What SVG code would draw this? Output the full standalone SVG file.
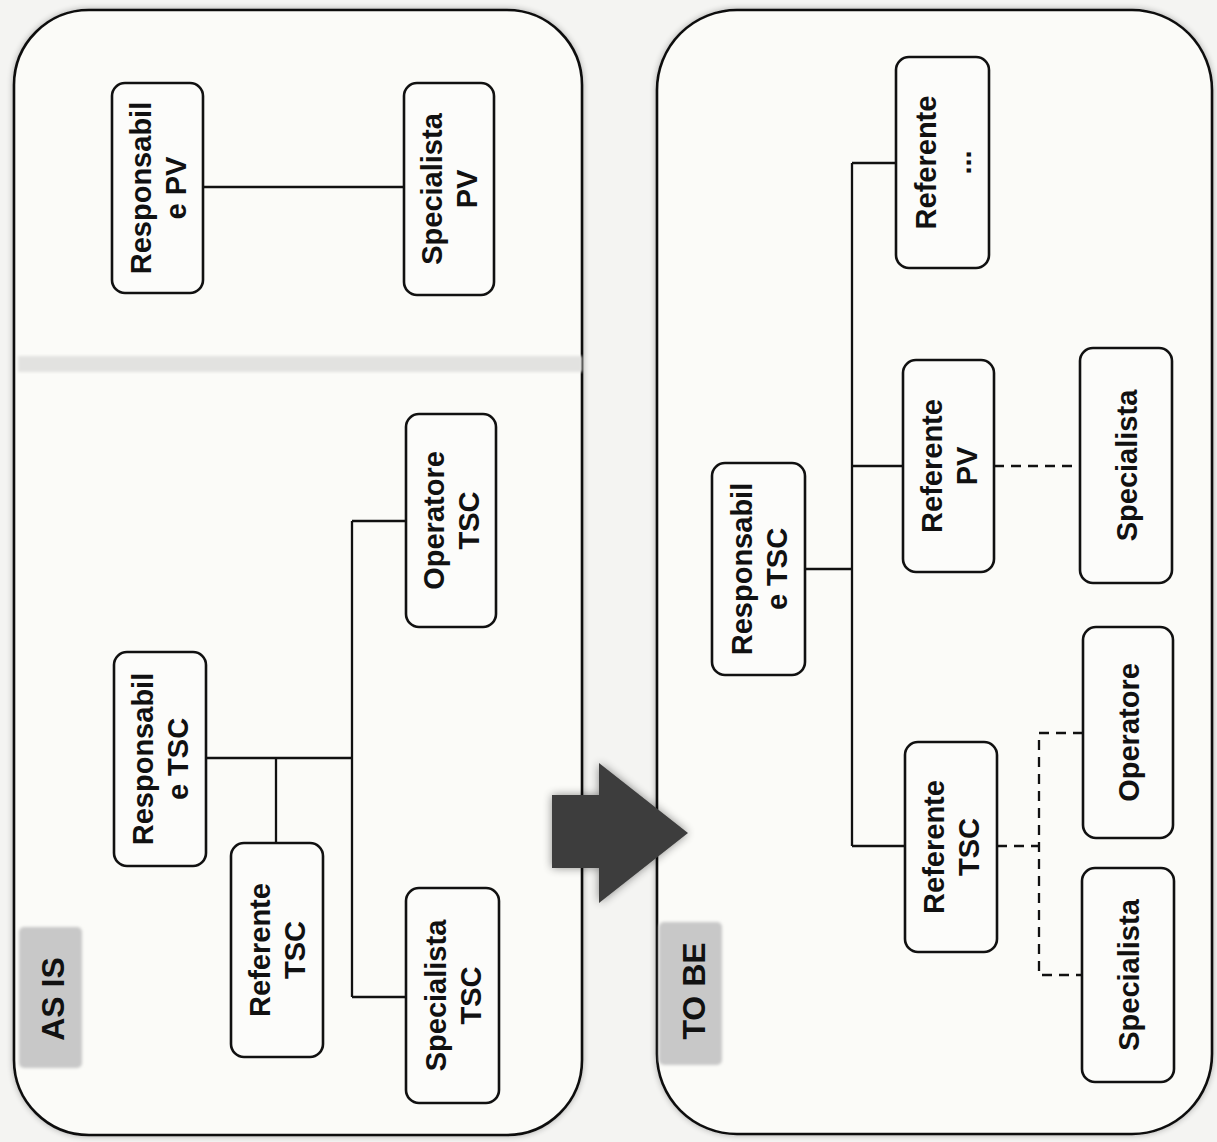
<svg xmlns="http://www.w3.org/2000/svg" width="1217" height="1142" viewBox="0 0 1217 1142">
  <defs>
    <style>
      .panel { fill: #fbfbf8; stroke: #111; stroke-width: 2.6; }
      .node rect { fill: #fcfcfa; stroke: #111; stroke-width: 2.6; }
      .node text, .tag text { font-family: "Liberation Sans", Arial, sans-serif; font-weight: bold; font-size: 29px; fill: #111; text-anchor: middle; }
      .tag text { font-size: 32px; }
      .tag rect { fill: #c8c8c8; }
      .conn line, .conn polyline { stroke: #111; stroke-width: 2.3; fill: none; }
      .conn .dash { stroke-dasharray: 10 7; }
    </style>
    <filter id="halo" x="-5%" y="-5%" width="110%" height="110%">
      <feGaussianBlur in="SourceAlpha" stdDeviation="3"/>
      <feComponentTransfer><feFuncA type="linear" slope="0.3"/></feComponentTransfer>
      <feMerge><feMergeNode/><feMergeNode in="SourceGraphic"/></feMerge>
    </filter>
    <filter id="arrowShade" x="-30%" y="-30%" width="160%" height="160%">
      <feGaussianBlur in="SourceAlpha" stdDeviation="5"/>
      <feComponentTransfer><feFuncA type="linear" slope="0.45"/></feComponentTransfer>
      <feMerge><feMergeNode/><feMergeNode in="SourceGraphic"/></feMerge>
    </filter>
    <filter id="softTag" x="-10%" y="-10%" width="120%" height="120%">
      <feGaussianBlur stdDeviation="1.5"/>
    </filter>
  </defs>

  <rect x="0" y="0" width="1217" height="1142" fill="#f4f4f2"/>

  <!-- Panels -->
  <g id="panel-as-is">
    <rect class="panel" x="14" y="10" width="568" height="1125" rx="75" ry="75" filter="url(#halo)"/>
    <rect x="18" y="356" width="564" height="16" fill="#e2e2e0" filter="url(#softTag)"/>
    <line x1="22" y1="364" x2="580" y2="364" stroke="#d2d2d0" stroke-width="7" stroke-dasharray="30 6 12 5 40 4 8 6" filter="url(#softTag)"/>
  </g>
  <g id="panel-to-be">
    <rect class="panel" x="657" y="10" width="555" height="1124" rx="80" ry="80" filter="url(#halo)"/>
  </g>

  <!-- Tags -->
  <g id="tag-as-is" class="tag">
    <rect x="19" y="927" width="63" height="141" rx="5" filter="url(#softTag)"/>
    <text transform="translate(52,999) rotate(-90)" y="12">AS IS</text>
  </g>
  <g id="tag-to-be" class="tag">
    <rect x="659" y="922" width="63" height="143" rx="5" filter="url(#softTag)"/>
    <text transform="translate(693,991) rotate(-90)" y="12">TO BE</text>
  </g>

  <!-- Connectors -->
  <g id="connectors" class="conn">
    <line x1="203" y1="187" x2="404" y2="187"/>
    <line x1="206" y1="758" x2="352" y2="758"/>
    <line x1="276" y1="758" x2="276" y2="843"/>
    <line x1="352" y1="521" x2="352" y2="997"/>
    <line x1="352" y1="521" x2="406" y2="521"/>
    <line x1="352" y1="997" x2="406" y2="997"/>

    <line x1="852" y1="163" x2="852" y2="846"/>
    <line x1="852" y1="163" x2="896" y2="163"/>
    <line x1="805" y1="569" x2="852" y2="569"/>
    <line x1="852" y1="466" x2="903" y2="466"/>
    <line x1="852" y1="846" x2="905" y2="846"/>
    <line class="dash" x1="994" y1="466" x2="1080" y2="466"/>
    <line class="dash" x1="997" y1="846" x2="1039" y2="846"/>
    <polyline class="dash" points="1083,733 1039,733 1039,975 1082,975"/>
  </g>

  <!-- AS IS nodes -->
  <g id="n-responsabile-pv" class="node">
    <rect x="112" y="83" width="91" height="210" rx="13"/>
    <text transform="translate(157.5,188) rotate(-90)"><tspan x="0" y="-7">Responsabil</tspan><tspan x="0" y="28">e PV</tspan></text>
  </g>
  <g id="n-specialista-pv" class="node">
    <rect x="404" y="83" width="90" height="212" rx="13"/>
    <text transform="translate(449,189) rotate(-90)"><tspan x="0" y="-7">Specialista</tspan><tspan x="0" y="28">PV</tspan></text>
  </g>
  <g id="n-operatore-tsc" class="node">
    <rect x="406" y="414" width="90" height="213" rx="13"/>
    <text transform="translate(451,520.5) rotate(-90)"><tspan x="0" y="-7">Operatore</tspan><tspan x="0" y="28">TSC</tspan></text>
  </g>
  <g id="n-responsabile-tsc" class="node">
    <rect x="114" y="652" width="92" height="214" rx="13"/>
    <text transform="translate(160,759) rotate(-90)"><tspan x="0" y="-7">Responsabil</tspan><tspan x="0" y="28">e TSC</tspan></text>
  </g>
  <g id="n-referente-tsc-asis" class="node">
    <rect x="231" y="843" width="92" height="214" rx="13"/>
    <text transform="translate(277,950) rotate(-90)"><tspan x="0" y="-7">Referente</tspan><tspan x="0" y="28">TSC</tspan></text>
  </g>
  <g id="n-specialista-tsc" class="node">
    <rect x="406" y="888" width="93" height="215" rx="13"/>
    <text transform="translate(452.5,995.5) rotate(-90)"><tspan x="0" y="-7">Specialista</tspan><tspan x="0" y="28">TSC</tspan></text>
  </g>

  <!-- TO BE nodes -->
  <g id="n-referente-altro" class="node">
    <rect x="896" y="57" width="93" height="211" rx="13"/>
    <text transform="translate(942.5,162.5) rotate(-90)"><tspan x="0" y="-7">Referente</tspan><tspan x="0" y="28">...</tspan></text>
  </g>
  <g id="n-referente-pv" class="node">
    <rect x="903" y="360" width="91" height="212" rx="13"/>
    <text transform="translate(948.5,466) rotate(-90)"><tspan x="0" y="-7">Referente</tspan><tspan x="0" y="28">PV</tspan></text>
  </g>
  <g id="n-specialista-pv-tobe" class="node">
    <rect x="1080" y="348" width="92" height="235" rx="13"/>
    <text transform="translate(1126,465.5) rotate(-90)" y="10.5">Specialista</text>
  </g>
  <g id="n-responsabile-tsc-tobe" class="node">
    <rect x="712" y="463" width="93" height="212" rx="13"/>
    <text transform="translate(758.5,569) rotate(-90)"><tspan x="0" y="-7">Responsabil</tspan><tspan x="0" y="28">e TSC</tspan></text>
  </g>
  <g id="n-referente-tsc-tobe" class="node">
    <rect x="905" y="742" width="92" height="210" rx="13"/>
    <text transform="translate(951,847) rotate(-90)"><tspan x="0" y="-7">Referente</tspan><tspan x="0" y="28">TSC</tspan></text>
  </g>
  <g id="n-operatore-tobe" class="node">
    <rect x="1083" y="627" width="90" height="211" rx="13"/>
    <text transform="translate(1128,732.5) rotate(-90)" y="10.5">Operatore</text>
  </g>
  <g id="n-specialista-tsc-tobe" class="node">
    <rect x="1082" y="868" width="92" height="214" rx="13"/>
    <text transform="translate(1128,975) rotate(-90)" y="10.5">Specialista</text>
  </g>

  <!-- Transition arrow -->
  <g id="arrow" filter="url(#arrowShade)">
    <path d="M552,795 L599,795 L599,763 L688,833 L599,903 L599,868 L552,868 Z" fill="#3e3e3e"/>
  </g>
</svg>
